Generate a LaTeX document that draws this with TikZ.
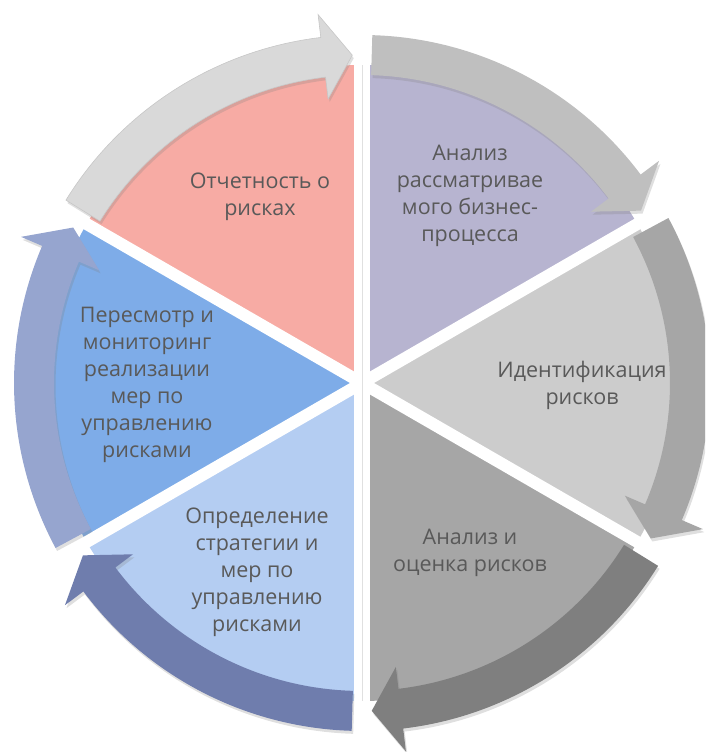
\documentclass[tikz,border=0pt]{standalone}
\usepackage{fontspec}
\setmainfont{Open Sans}
\usetikzlibrary{calc,shadows}
\definecolor{pinkF}{HTML}{F7ABA4}
\definecolor{pinkA}{HTML}{D9D9D9}
\definecolor{purpF}{HTML}{B7B4D0}
\definecolor{purpA}{HTML}{BFBFBF}
\definecolor{identF}{HTML}{CCCCCC}
\definecolor{identA}{HTML}{A6A6A6}
\definecolor{analF}{HTML}{A6A6A6}
\definecolor{analA}{HTML}{7F7F7F}
\definecolor{opredF}{HTML}{B4CDF2}
\definecolor{opredA}{HTML}{6F7DAD}
\definecolor{peresF}{HTML}{7EACE8}
\definecolor{peresA}{HTML}{96A5CF}
\definecolor{txt}{HTML}{595959}
\newcommand\mysector[3]{%
  \fill[#3] (C) -- ($(C)+(#1:318pt)$) arc[start angle=#1,end angle=#2,radius=318pt] -- cycle;}
\newcommand\segarrow[4][]{%
  \pgfmathsetmacro\sa{#2-1.7}%
  \pgfmathsetmacro\hb{#3+6.8}%
  \pgfmathsetmacro\tp{#3+1.7}%
  \fill[#4, arrowshade, #1] ($(C)+(\sa:348pt)$) arc[start angle=\sa,end angle=\hb,radius=348pt]
    -- ($(C)+(\hb:371pt)$) -- ($(C)+(\tp:328pt)$) -- ($(C)+(\hb:286pt)$)
    -- ($(C)+(\hb:308pt)$) arc[start angle=\hb,end angle=\sa,radius=308pt] -- cycle;}
\begin{document}
\begin{tikzpicture}[x=1pt,y=1pt,
  lbl/.style={align=center, text=txt, font=\fontsize{21.5}{27}\selectfont, inner sep=0pt},
  gapline/.style={white, line width=12pt},
  arrowshade/.style={drop shadow={opacity=0.25, shadow xshift=1.5pt, shadow yshift=-3pt}}]
\useasboundingbox (0,0) rectangle (705,752);
\clip (0,0) rectangle (705,752);
\coordinate (C) at (362,369);
% sectors
\mysector{150}{90}{pinkF}
\mysector{90}{30}{purpF}
\mysector{30}{-30}{identF}
\mysector{-30}{-90}{analF}
\mysector{-90}{-150}{opredF}
\mysector{210}{150}{peresF}
% gaps
\foreach \a in {30,-30,-150,150}
  \draw[gapline] (C) -- ($(C)+(\a:330pt)$);
\foreach \a in {90,-90}
  \draw[gapline, line width=16pt] (C) -- ($(C)+(\a:330pt)$);
\foreach \a in {90,-90}
  \draw[black!12, line width=0.8pt] (C) -- ($(C)+(\a:318pt)$);
% arrows
\segarrow[draw=black!22, line width=0.6pt]{150}{90}{pinkA}
\segarrow{90}{30}{purpA}
\segarrow{30}{-30}{identA}
\segarrow{330}{270}{analA}
\segarrow{270}{210}{opredA}
\segarrow{210}{150}{peresA}
% labels
\node[lbl] (t1) at (260,555) {Отчетность о\\рисках};
\node[lbl] (t2) at (470,556) {Анализ\\рассматривае\\мого бизнес-\\процесса};
\node[lbl] (t3) at (582,367) {Идентификация\\рисков};
\node[lbl] (t4) at (470,199) {Анализ и\\оценка рисков};
\node[lbl] (t5) at (257,180) {Определение\\стратегии и\\мер по\\управлению\\рисками};
\node[lbl] (t6) at (147,367) {Пересмотр и\\мониторинг\\реализации\\мер по\\управлению\\рисками};
\end{tikzpicture}
\end{document}
